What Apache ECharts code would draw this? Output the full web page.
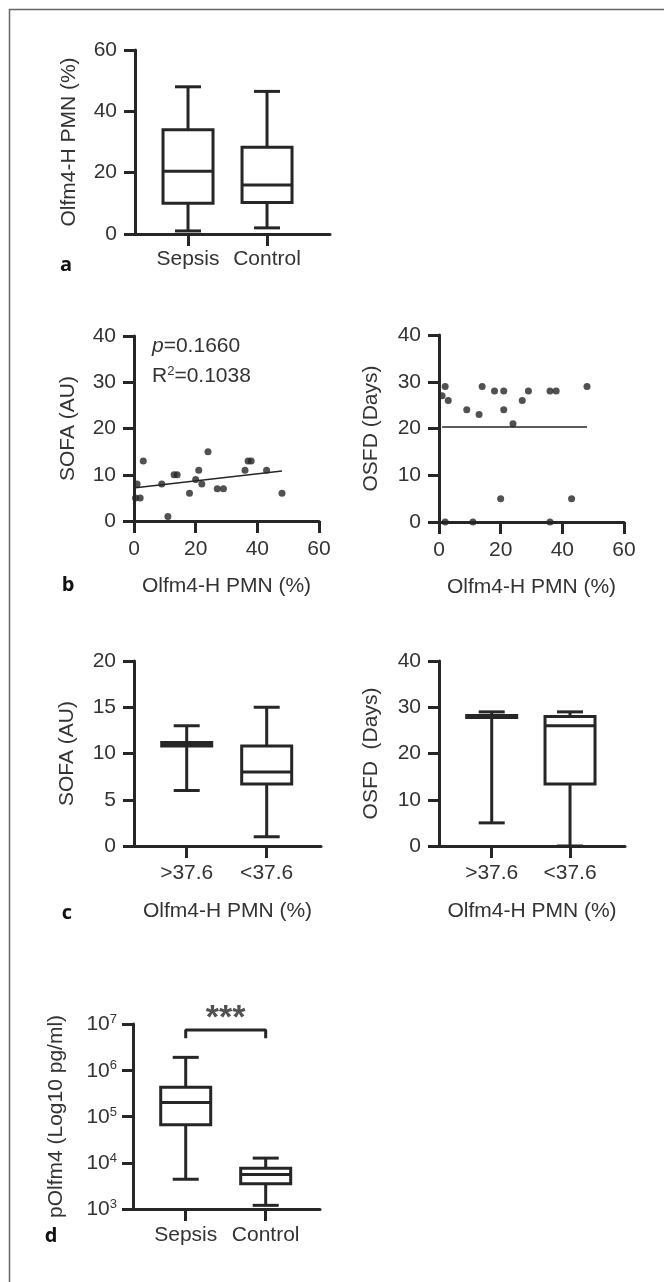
<!DOCTYPE html>
<html>
<head>
<meta charset="utf-8">
<script src="https://cdn.jsdelivr.net/npm/echarts@6/dist/echarts.min.js"></script>
<style>
html,body{margin:0;padding:0;background:#fff;}
#chart{width:664px;height:1282px;}
</style>
</head>
<body>
<div id="chart"></div>
<script>
// ---------- DATA ----------
// Panel a: Olfm4-H PMN (%) box plots  [min, q1, median, q3, max]
const aCategories = ['Sepsis', 'Control'];
const aBoxes = [[1, 10, 20.5, 34, 48], [2, 10.3, 16, 28.3, 46.5]];
const aTicks = [0, 20, 40, 60];

// Panel b: scatter Olfm4-H PMN (%) vs SOFA / OSFD
const sofaPoints = [[1, 8], [0.5, 5], [2, 5], [3, 13], [9, 8], [11, 1], [13, 10], [14, 10], [18, 6], [20, 9],
  [21, 11], [22, 8], [24, 15], [27, 7], [29, 7], [36, 11], [37, 13], [38, 13], [43, 11], [48, 6]];
const sofaFit = [[0.5, 7.2], [48, 10.8]];
const osfdPoints = [[1, 27], [2, 29], [3, 26], [9, 24], [13, 23], [14, 29], [18, 28], [21, 28], [21, 24], [24, 21],
  [27, 26], [29, 28], [36, 28], [38, 28], [48, 29], [2, 0], [11, 0], [36, 0], [20, 5], [43, 5]];
const osfdFit = [[1, 20.3], [48, 20.3]];

// Panel c: by Olfm4-H PMN threshold
const cCategories = ['>37.6', '<37.6'];
const cSofaBoxes = [[6, 10.8, 11, 11.2, 13], [1, 6.7, 8, 10.8, 15]];
const cOsfdBoxes = [[5, 27.8, 28, 28.2, 29], [0, 13.4, 26, 28, 29]];

// Panel d: pOlfm4 (pg/ml), log scale
const dCategories = ['Sepsis', 'Control'];
const dBoxes = [[4400, 66000, 200000, 430000, 1900000], [1200, 3500, 5600, 7600, 12600]];
const dBracket = [[0, 4.9e6], [0, 7.4e6], [1, 7.4e6], [1, 4.9e6]];
const dSignifPos = [[0.5, 1.3e7]];
const dSignif = '***';

// ---------- STYLE ----------
const LINE = '#262626';
const TEXT = '#333';
const FONT = 'Liberation Sans, Arial, sans-serif';
const FS = 21;

function renderBox(params, api) {
  const x = api.value(0);
  const p = [1, 2, 3, 4, 5].map(i => api.coord([x, api.value(i)]));
  const cx = p[0][0];
  const yMin = p[0][1], yQ1 = p[1][1], yMed = p[2][1], yQ3 = p[3][1], yMax = p[4][1];
  const bw = 50, cw = 26;
  const st = { stroke: LINE, lineWidth: 3, fill: null };
  return {
    type: 'group', children: [
      { type: 'line', shape: { x1: cx, y1: yQ3, x2: cx, y2: yMax }, style: st },
      { type: 'line', shape: { x1: cx, y1: yQ1, x2: cx, y2: yMin }, style: st },
      { type: 'line', shape: { x1: cx - cw / 2, y1: yMax, x2: cx + cw / 2, y2: yMax }, style: st },
      { type: 'line', shape: { x1: cx - cw / 2, y1: yMin, x2: cx + cw / 2, y2: yMin }, style: st },
      { type: 'rect', shape: { x: cx - bw / 2, y: yQ3, width: bw, height: yQ1 - yQ3 }, style: { stroke: LINE, lineWidth: 3, fill: '#fff' } },
      { type: 'line', shape: { x1: cx - bw / 2, y1: yMed, x2: cx + bw / 2, y2: yMed }, style: st }
    ]
  };
}

function axisCommon() {
  return {
    axisLine: { show: true, onZero: false, lineStyle: { color: LINE, width: 3 } },
    axisTick: { show: true, inside: false, length: 11, lineStyle: { color: LINE, width: 3 } },
    splitLine: { show: false },
    nameTextStyle: { color: TEXT, fontSize: FS, fontFamily: FONT },
    nameLocation: 'middle'
  };
}

function yVal(gi, min, max, interval, name, gap) {
  const a = axisCommon();
  return Object.assign(a, {
    type: 'value', gridIndex: gi, min, max, interval, name, nameGap: gap,
    axisLabel: { color: TEXT, fontSize: FS, fontFamily: FONT, margin: 18 }
  });
}
function xCat(gi, min, max, cats, margin) {
  const a = axisCommon();
  return Object.assign(a, {
    type: 'value', gridIndex: gi, min, max,
    axisTick: { show: true, length: 12, customValues: [0, 1], lineStyle: { color: LINE, width: 3 } },
    axisLabel: { color: TEXT, fontSize: FS, fontFamily: FONT, margin, customValues: [0, 1], formatter: v => cats[Math.round(v)] }
  });
}
function xVal(gi, min, max, interval, margin) {
  const a = axisCommon();
  return Object.assign(a, {
    type: 'value', gridIndex: gi, min, max, interval,
    axisTick: { show: true, length: 12, lineStyle: { color: LINE, width: 3 } },
    axisLabel: { color: TEXT, fontSize: FS, fontFamily: FONT, margin }
  });
}

const grids = [
  { left: 135, top: 50, width: 195, height: 184 },
  { left: 134, top: 336, width: 185, height: 185 },
  { left: 439, top: 335, width: 185, height: 187 },
  { left: 134, top: 661, width: 187, height: 185 },
  { left: 439, top: 661, width: 186, height: 185 },
  { left: 133, top: 1024, width: 187, height: 185 }
];

const xAxes = [
  xCat(0, -0.671, 1.797, aCategories, 15),
  xVal(1, 0, 60, 20, 18),
  xVal(2, 0, 60, 20, 18),
  xCat(3, -0.659, 1.679, cCategories, 17),
  xCat(4, -0.673, 1.702, cCategories, 17),
  xCat(5, -0.659, 1.679, dCategories, 16)
];
[1, 2, 3, 4].forEach(i => { xAxes[i].name = 'Olfm4-H PMN (%)'; xAxes[i].nameGap = 55; });

const yLog = Object.assign(axisCommon(), {
  type: 'log', logBase: 10, gridIndex: 5, min: 1000, max: 1e7,
  name: 'pOlfm4 (Log10 pg/ml)', nameGap: 66,
  axisLabel: {
    color: TEXT, fontSize: FS, fontFamily: FONT, margin: 16,
    formatter: v => '{b|10}{s|' + Math.round(Math.log10(v)) + '}',
    rich: {
      b: { fontSize: FS, fontFamily: FONT, color: TEXT, lineHeight: 22, verticalAlign: 'bottom' },
      s: { fontSize: 13, fontFamily: FONT, color: TEXT, lineHeight: 22, verticalAlign: 'top', padding: [0, 0, 8, 0] }
    }
  }
});

const yAxes = [
  yVal(0, 0, 60, 20, 'Olfm4-H PMN (%)', 55),
  yVal(1, 0, 40, 10, 'SOFA (AU)', 55),
  yVal(2, 0, 40, 10, 'OSFD (Days)', 57),
  yVal(3, 0, 20, 5, 'SOFA (AU)', 56),
  yVal(4, 0, 40, 10, 'OSFD  (Days)', 57),
  yLog
];

const toBoxData = boxes => boxes.map((b, i) => [i].concat(b));

const series = [
  { type: 'custom', xAxisIndex: 0, yAxisIndex: 0, renderItem: renderBox, data: toBoxData(aBoxes), encode: { x: 0, y: [1, 2, 3, 4, 5] }, clip: false },
  { type: 'scatter', xAxisIndex: 1, yAxisIndex: 1, data: sofaPoints, symbolSize: 7, itemStyle: { color: LINE } },
  { type: 'line', xAxisIndex: 1, yAxisIndex: 1, data: sofaFit, symbol: 'none', lineStyle: { color: LINE, width: 1.5 } },
  { type: 'scatter', xAxisIndex: 2, yAxisIndex: 2, data: osfdPoints, symbolSize: 7, itemStyle: { color: LINE }, clip: false },
  { type: 'line', xAxisIndex: 2, yAxisIndex: 2, data: osfdFit, symbol: 'none', lineStyle: { color: LINE, width: 1.5 } },
  { type: 'custom', xAxisIndex: 3, yAxisIndex: 3, renderItem: renderBox, data: toBoxData(cSofaBoxes), encode: { x: 0, y: [1, 2, 3, 4, 5] }, clip: false },
  { type: 'custom', xAxisIndex: 4, yAxisIndex: 4, renderItem: renderBox, data: toBoxData(cOsfdBoxes), encode: { x: 0, y: [1, 2, 3, 4, 5] }, clip: false },
  { type: 'custom', xAxisIndex: 5, yAxisIndex: 5, renderItem: renderBox, data: toBoxData(dBoxes), encode: { x: 0, y: [1, 2, 3, 4, 5] }, clip: false },
  { type: 'line', xAxisIndex: 5, yAxisIndex: 5, data: dBracket, symbol: 'none', clip: false, lineStyle: { color: LINE, width: 3 } },
  { type: 'scatter', xAxisIndex: 5, yAxisIndex: 5, data: dSignifPos, symbolSize: 1, clip: false, itemStyle: { color: 'rgba(0,0,0,0)' },
    label: { show: true, position: 'inside', formatter: dSignif, color: LINE, fontSize: 34, fontWeight: 'bold', fontFamily: FONT } }
];

const letterStyle = { fill: '#111', font: 'bold 20px "Open Sans", sans-serif', textAlign: 'center', textVerticalAlign: 'middle' };
const graphic = [
  { type: 'rect', left: 7, top: 7, shape: { width: 700, height: 1300 }, style: { fill: null, stroke: '#666', lineWidth: 1.5 }, z: 0 },
  { type: 'text', x: 66, y: 265, style: Object.assign({ text: 'a' }, letterStyle) },
  { type: 'text', x: 68, y: 585, style: Object.assign({ text: 'b' }, letterStyle) },
  { type: 'text', x: 67, y: 913, style: Object.assign({ text: 'c' }, letterStyle) },
  { type: 'text', x: 51, y: 1236, style: Object.assign({ text: 'd' }, letterStyle) },
  { type: 'text', x: 152, y: 346, style: { text: '{i|p}{n|=0.1660}', rich: { i: { fontStyle: 'italic', fontSize: FS, fontFamily: FONT, fill: TEXT }, n: { fontSize: FS, fontFamily: FONT, fill: TEXT } }, textVerticalAlign: 'middle' } },
  { type: 'text', x: 152, y: 376, style: { text: '{n|R}{s|2}{n|=0.1038}', rich: { n: { fontSize: FS, fontFamily: FONT, fill: TEXT, lineHeight: 22, verticalAlign: 'bottom' }, s: { fontSize: 13, fontFamily: FONT, fill: TEXT, lineHeight: 22, verticalAlign: 'top' } }, textVerticalAlign: 'middle' } }
];

const chart = echarts.init(document.getElementById('chart'), null, { renderer: 'canvas' });
chart.setOption({
  animation: false,
  backgroundColor: '#fff',
  grid: grids,
  xAxis: xAxes,
  yAxis: yAxes,
  series,
  graphic
});
</script>
</body>
</html>
